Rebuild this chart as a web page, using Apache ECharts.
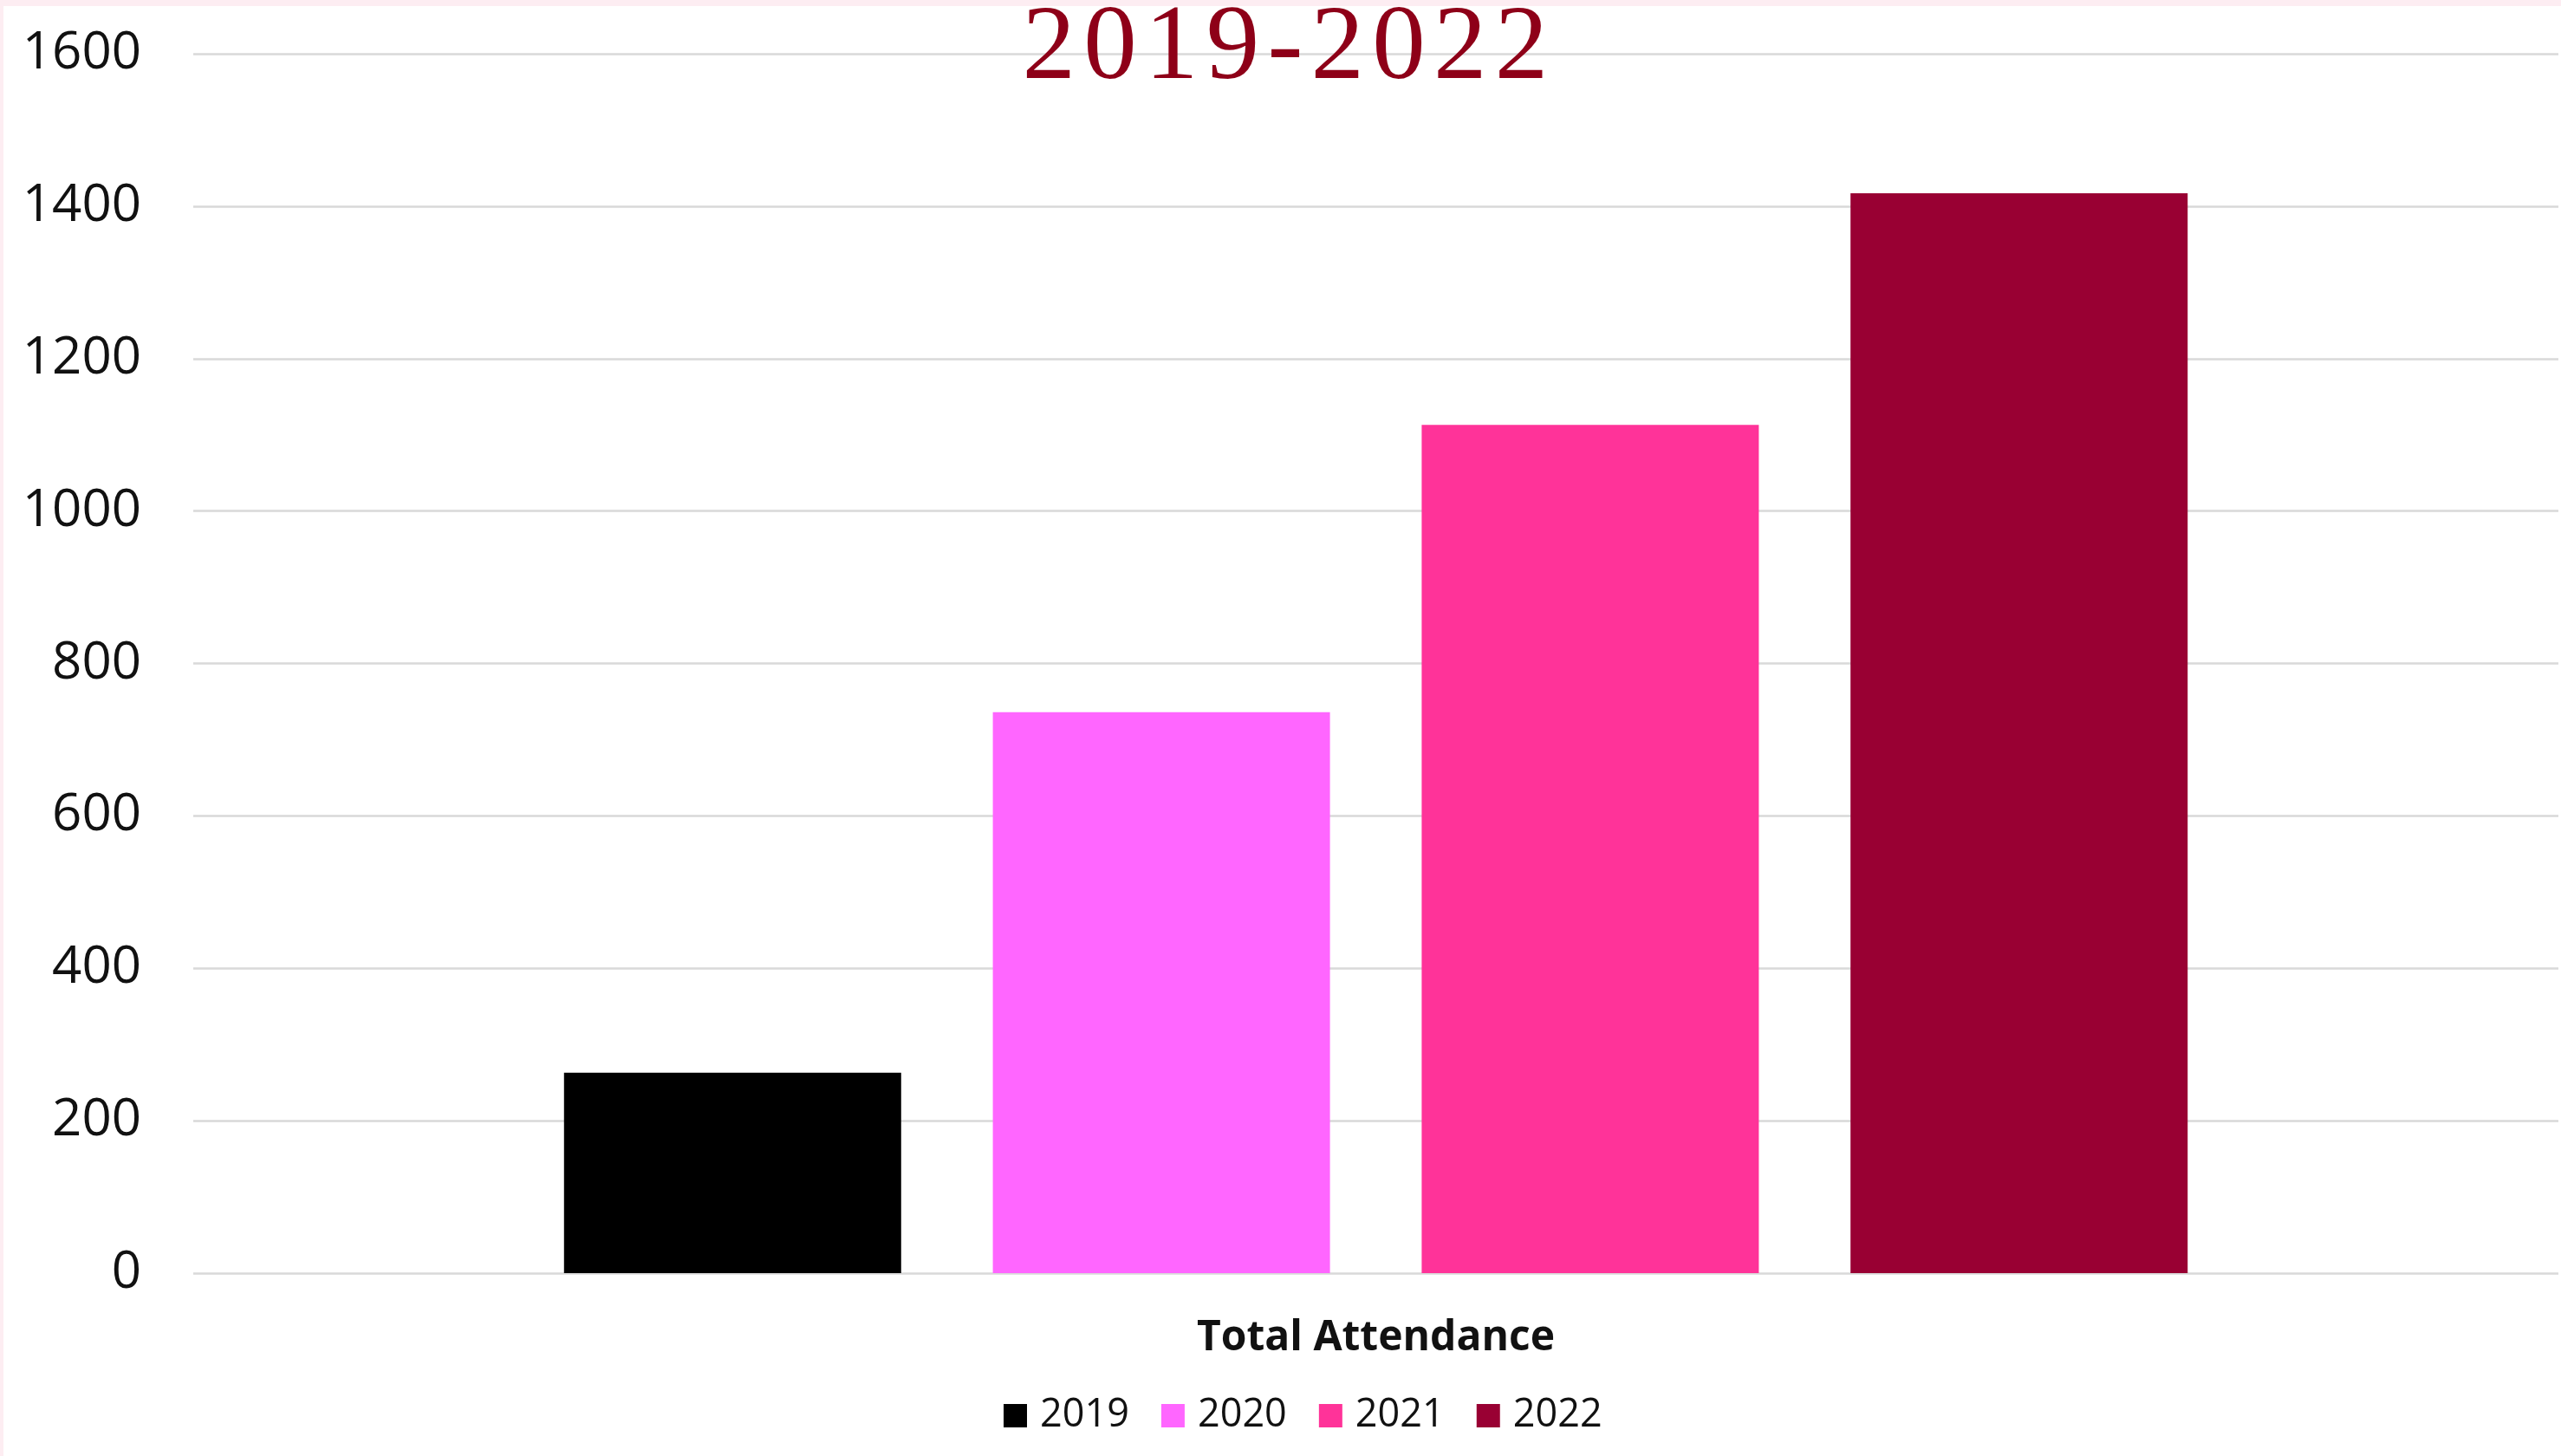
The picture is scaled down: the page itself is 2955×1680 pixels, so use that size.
<!DOCTYPE html>
<html>
<head>
<meta charset="utf-8">
<script src="https://cdn.jsdelivr.net/npm/echarts@6/dist/echarts.min.js"></script>
<style>
html,body{margin:0;padding:0;width:2955px;height:1680px;background:#ffffff;overflow:hidden;}
#chart{position:absolute;left:0;top:0;width:2955px;height:1680px;}
</style>
</head>
<body>
<div id="chart"></div>
<script>
const titleText = '2019-2022';
const categories = ['Total Attendance'];
const seriesNames = ['2019', '2020', '2021', '2022'];
const values2019 = [263];
const values2020 = [736];
const values2021 = [1113];
const values2022 = [1417];
const yTicks = [0, 200, 400, 600, 800, 1000, 1200, 1400, 1600];
const colors = ['#000000', '#ff66ff', '#ff3399', '#990033'];

const seriesValues = [values2019, values2020, values2021, values2022];
const chart = echarts.init(document.getElementById('chart'));
const option = {
  animation: false,
  backgroundColor: '#ffffff',
  graphic: [
    {type: 'rect', left: 0, top: 0, z: -10, silent: true, shape: {width: 2955, height: 7}, style: {fill: '#fdedf2'}},
    {type: 'rect', left: 0, top: 0, z: -10, silent: true, shape: {width: 4, height: 1680}, style: {fill: '#fdedf2'}}
  ],
  title: {
    text: titleText.split('').map(c => '{c|' + c + '}').join(''),
    left: 1170,
    top: -9,
    z: 10,
    textStyle: {
      fontFamily: '"Liberation Serif", serif',
      fontSize: 123,
      fontWeight: 'normal',
      color: '#8e0018',
      rich: {
        c: {fontFamily: '"Liberation Serif", serif', fontSize: 123, fontWeight: 'normal', color: '#8e0018', lineHeight: 123, padding: [0, 4.6, 0, 4.6]}
      }
    }
  },
  legend: {
    data: seriesNames,
    left: 1153,
    top: 1606,
    itemWidth: 27,
    itemHeight: 27,
    itemGap: 37,
    icon: 'rect',
    textStyle: {fontFamily: 'Open Sans', fontSize: 45, color: '#111111', lineHeight: 45, padding: [0, 0, 0, 10]}
  },
  grid: {left: 223, right: 3, top: 62, bottom: 211, containLabel: false},
  xAxis: {
    type: 'category',
    data: categories,
    axisLine: {show: false},
    axisTick: {show: false},
    axisLabel: {margin: 51, fontFamily: 'Open Sans', fontWeight: 'bold', fontSize: 48, color: '#111111'}
  },
  yAxis: {
    type: 'value',
    min: yTicks[0],
    max: yTicks[yTicks.length - 1],
    interval: 200,
    axisLine: {show: false},
    axisTick: {show: false},
    axisLabel: {margin: 60, fontFamily: 'Open Sans', fontSize: 60, color: '#111111', formatter: v => String(v)},
    splitLine: {lineStyle: {color: '#d9d9d9', width: 2.5}}
  },
  series: seriesNames.map((name, i) => ({
    name: name,
    type: 'bar',
    data: seriesValues[i],
    barWidth: 389,
    barGap: '27.2%',
    itemStyle: {color: colors[i]}
  }))
};
chart.setOption(option);
</script>
</body>
</html>
